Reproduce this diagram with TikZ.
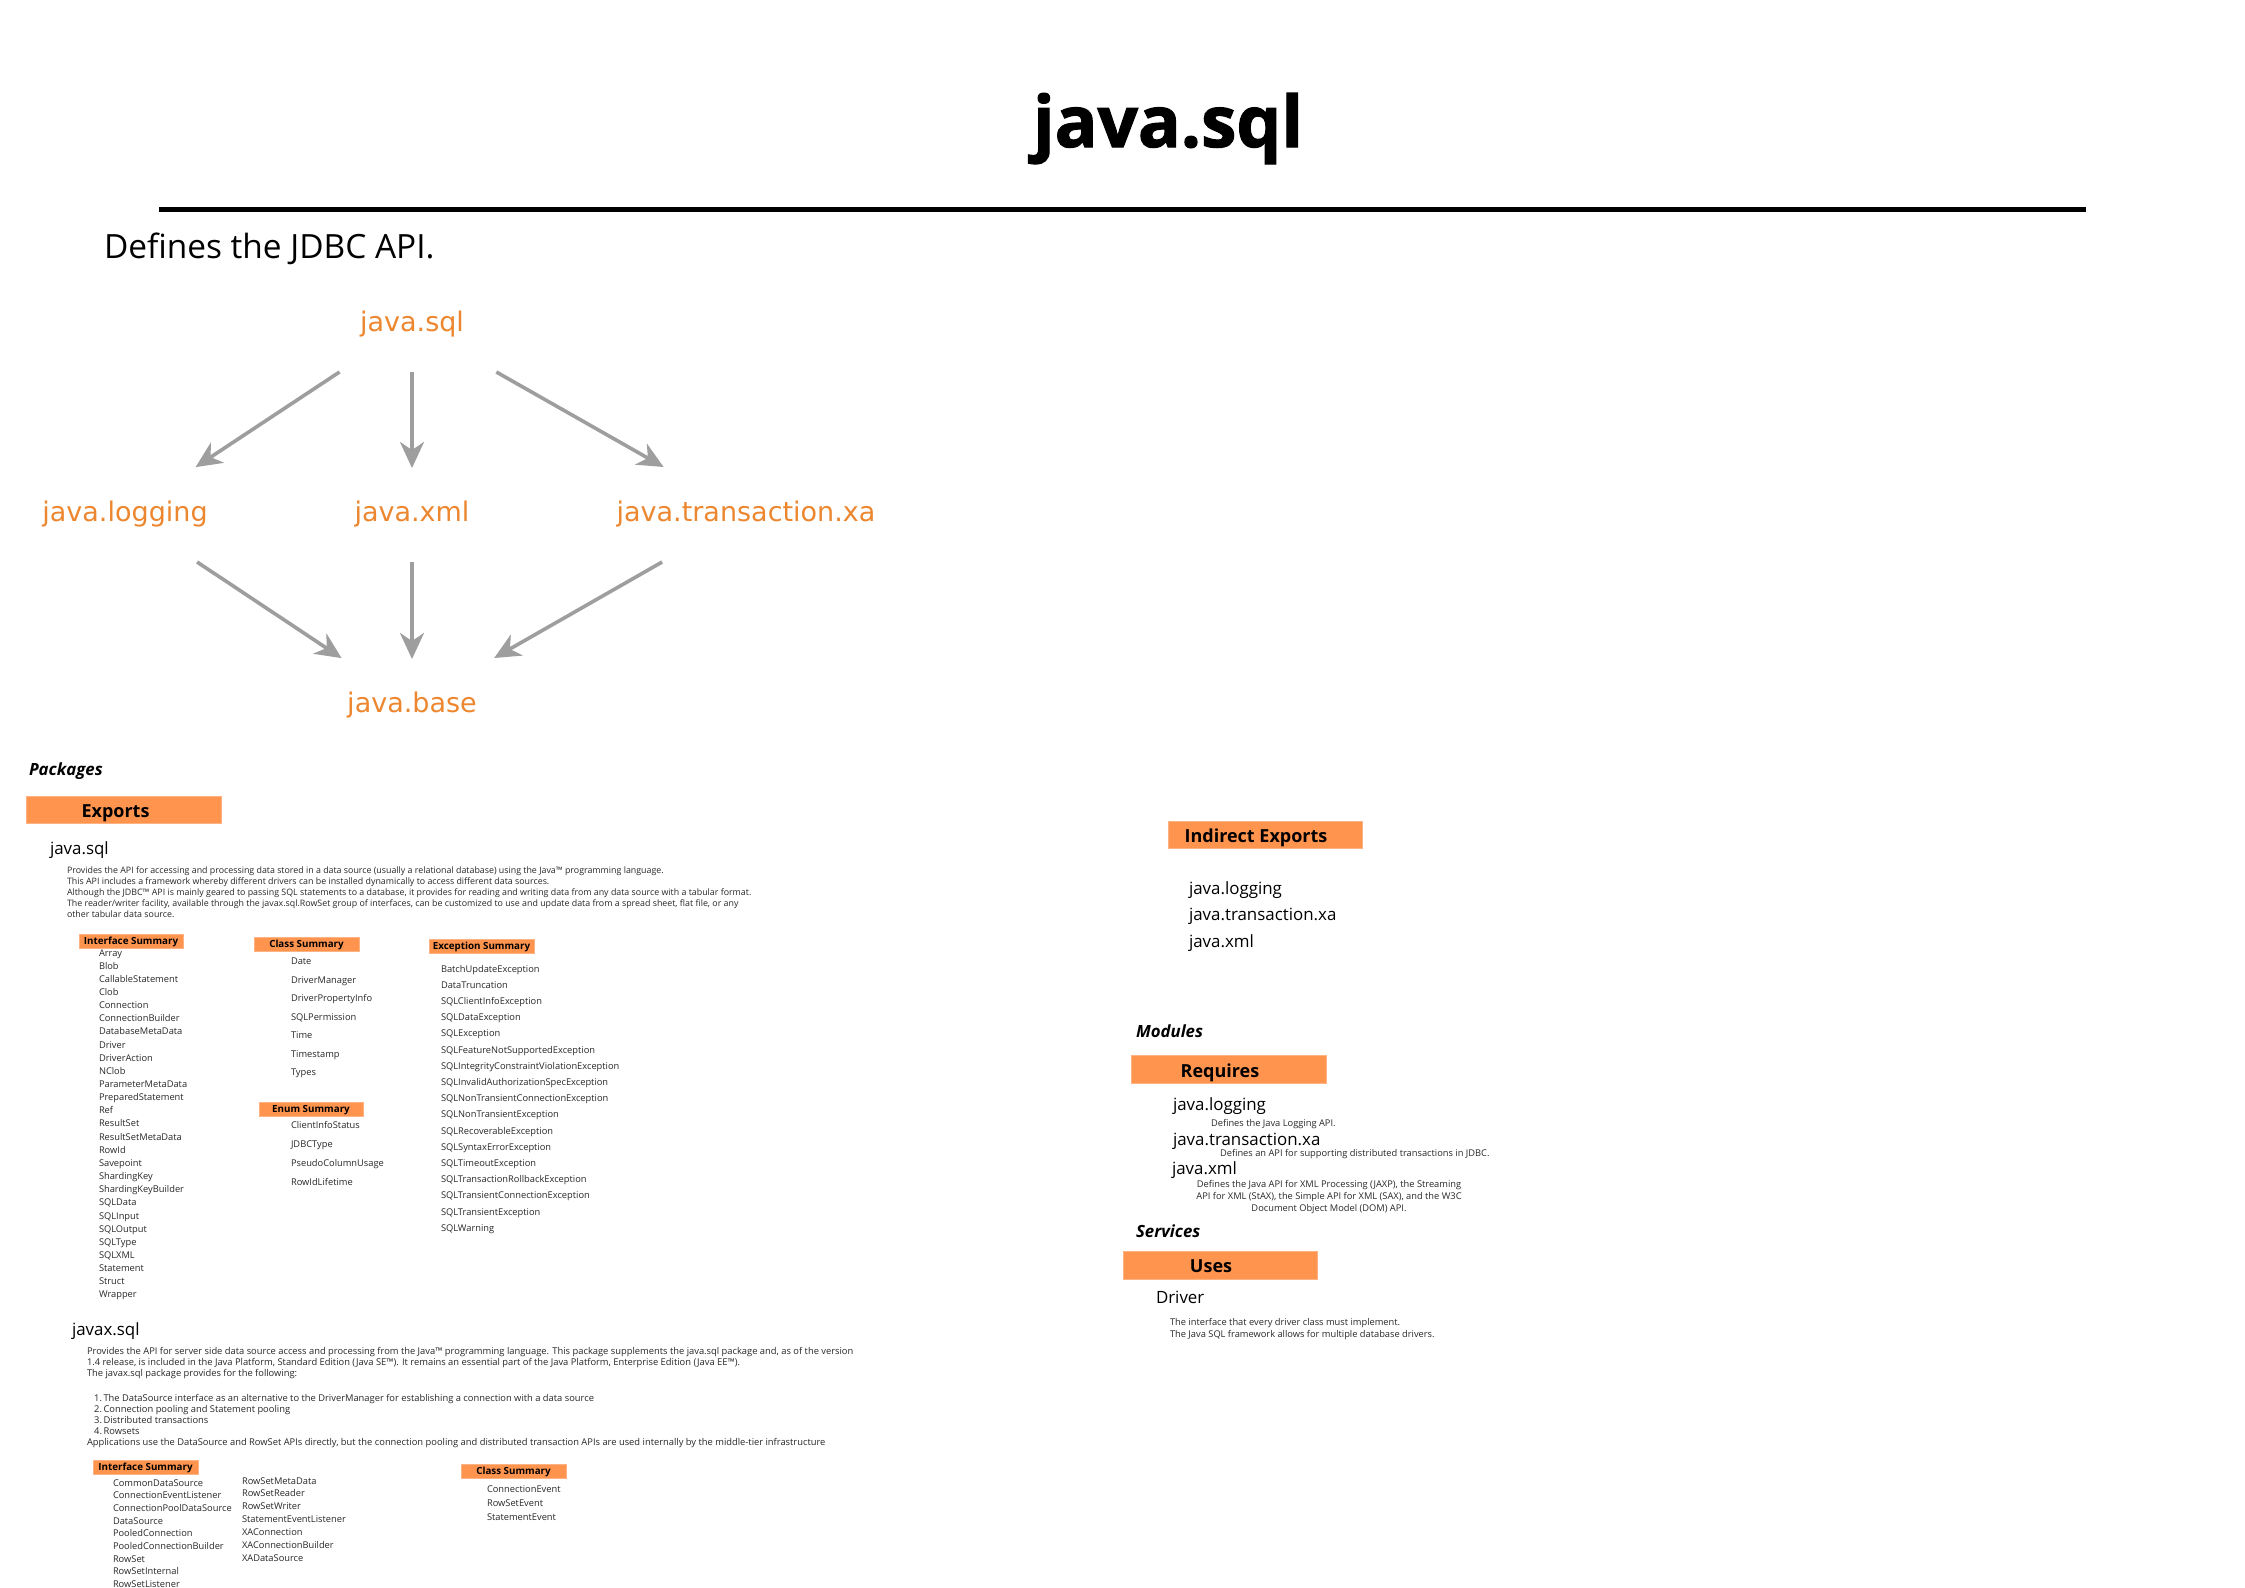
\documentclass[tikz,border=0pt]{standalone}
\usepackage{fontspec}
\setmainfont{Open Sans}
\newfontfamily\dvfont{DejaVu Sans}
\usetikzlibrary{arrows.meta}
\definecolor{modorange}{RGB}{236,135,48}
\definecolor{boxorange}{RGB}{255,148,79}
\definecolor{boxedge}{RGB}{255,178,130}
\definecolor{arrgray}{RGB}{158,158,158}
\definecolor{txtgray}{RGB}{40,40,40}
\newcommand{\fsz}[2]{\fontsize{#1}{#2}\selectfont}
\begin{document}
\begin{tikzpicture}[x=1pt,y=-1pt,
  every node/.style={inner sep=0pt, outer sep=0pt},
  mod/.style={font=\dvfont\fsz{27}{30}, text=modorange, minimum height=96pt, minimum width=170pt},
  dep/.style={draw=arrgray, line width=3.6pt, -{Stealth[length=26pt,width=24pt,inset=8pt]}, shorten >=-2pt},
  sect/.style={font=\bfseries\itshape\fsz{16.8}{19}, anchor=base west},
  obox/.style={fill=boxorange, draw=boxedge, line width=0.8pt, anchor=north west},
  bighdr/.style={font=\bfseries\fsz{18}{20}, anchor=base},
  smallhdr/.style={font=\bfseries\fsz{9.8}{12}, anchor=base},
  pkg/.style={font=\fsz{16.9}{20}, anchor=base west, text=black},
  desc/.style={font=\fsz{8.85}{10.9}, anchor=north west, align=left, text=txtgray},
  xdesc/.style={font=\fsz{9.35}{11.2}, anchor=north west, align=left, text=txtgray},
  rdesc/.style={font=\fsz{9.3}{12}, anchor=base west, text=txtgray},
  item/.style={font=\fsz{9.3}{11}, anchor=base west, text=txtgray},
]
\path[use as bounding box, fill=white] (0,0) rectangle (2245,1587);

% ---------------- title ----------------
\node[font=\bfseries\fsz{71}{80}\addfontfeature{FakeBold=1.6}, anchor=base] (title) at (1168,147) {java.sql};
\coordinate (rulel) at (159,209);
\coordinate (ruler) at (2086,209);
\draw[line width=5pt] (rulel) -- (ruler);
\node[font=\fsz{33.4}{37}, anchor=base west] (defines) at (104,258) {Defines the JDBC API.};

% ---------------- module graph ----------------
\node[mod] (msql)  at (412,324) {java.sql};
\node[mod] (mlog)  at (125,514) {java.logging};
\node[mod] (mxml)  at (412,514) {java.xml};
\node[mod] (mtx)   at (746,514) {java.transaction.xa};
\node[mod] (mbase) at (412,705) {java.base};
\draw[dep] (msql) -- (mlog);
\draw[dep] (msql) -- (mxml);
\draw[dep] (msql) -- (mtx);
\draw[dep] (mlog) -- (mbase);
\draw[dep] (mxml) -- (mbase);
\draw[dep] (mtx)  -- (mbase);

% ---------------- Packages / Exports ----------------
\node[sect] (packages) at (29,775) {Packages};
\node[obox, minimum width=195pt, minimum height=27pt] (exbox) at (26,796) {};
\node[bighdr] (exhdr) at (115.5,817) {Exports};

\node[pkg] (pkgsql) at (50,854) {java.sql};
\node[desc] (sqldesc) at (67,867.2) {Provides the API for accessing and processing data stored in a data source (usually a relational database) using the Java™ programming language.\\
This API includes a framework whereby different drivers can be installed dynamically to access different data sources.\\
Although the JDBC™ API is mainly geared to passing SQL statements to a database, it provides for reading and writing data from any data source with a tabular format.\\
The reader/writer facility, available through the javax.sql.RowSet group of interfaces, can be customized to use and update data from a spread sheet, flat file, or any\\
other tabular data source.};

% java.sql summaries
\node[obox, minimum width=104pt, minimum height=14pt] (ifbox) at (79,934) {};
\node[smallhdr] (ifhdr) at (ifbox.center) [yshift=-3.6pt] {Interface Summary};
\foreach \t [count=\i from 0] in {Array,Blob,CallableStatement,Clob,Connection,ConnectionBuilder,DatabaseMetaData,Driver,DriverAction,NClob,ParameterMetaData,PreparedStatement,Ref,ResultSet,ResultSetMetaData,RowId,Savepoint,ShardingKey,ShardingKeyBuilder,SQLData,SQLInput,SQLOutput,SQLType,SQLXML,Statement,Struct,Wrapper}
  \node[item] (ifi\i) at (99,{956+13.15*\i}) {\t};

\node[obox, minimum width=105pt, minimum height=14pt] (clbox) at (254,937) {};
\node[smallhdr] (clhdr) at (clbox.center) [yshift=-3.6pt] {Class Summary};
\foreach \t [count=\i from 0] in {Date,DriverManager,DriverPropertyInfo,SQLPermission,Time,Timestamp,Types}
  \node[item] (cli\i) at (291,{964.5+18.5*\i}) {\t};

\node[obox, minimum width=104pt, minimum height=14pt] (enbox) at (259,1102) {};
\node[smallhdr] (enhdr) at (enbox.center) [yshift=-3.6pt] {Enum Summary};
\foreach \t [count=\i from 0] in {ClientInfoStatus,JDBCType,PseudoColumnUsage,RowIdLifetime}
  \node[item] (eni\i) at (291,{1128+19.2*\i}) {\t};

\node[obox, minimum width=105pt, minimum height=14pt] (exsbox) at (429,939) {};
\node[smallhdr] (exshdr) at (exsbox.center) [yshift=-3.6pt] {Exception Summary};
\foreach \t [count=\i from 0] in {BatchUpdateException,DataTruncation,SQLClientInfoException,SQLDataException,SQLException,SQLFeatureNotSupportedException,SQLIntegrityConstraintViolationException,SQLInvalidAuthorizationSpecException,SQLNonTransientConnectionException,SQLNonTransientException,SQLRecoverableException,SQLSyntaxErrorException,SQLTimeoutException,SQLTransactionRollbackException,SQLTransientConnectionException,SQLTransientException,SQLWarning}
  \node[item] (exi\i) at (441,{972+16.2*\i}) {\t};

% ---------------- javax.sql ----------------
\node[pkg] (pkgxsql) at (72,1335) {javax.sql};
\node[xdesc] (xdesc) at (87,1347) {Provides the API for server side data source access and processing from the Java™ programming language. This package supplements the java.sql package and, as of the version\\
1.4 release, is included in the Java Platform, Standard Edition (Java SE™). It remains an essential part of the Java Platform, Enterprise Edition (Java EE™).\\
The javax.sql package provides for the following:};
\node[xdesc] (xlist) at (87,1394) {\makebox[15pt][r]{1.}\,The DataSource interface as an alternative to the DriverManager for establishing a connection with a data source\\
\makebox[15pt][r]{2.}\,Connection pooling and Statement pooling\\
\makebox[15pt][r]{3.}\,Distributed transactions\\
\makebox[15pt][r]{4.}\,Rowsets};
\node[xdesc] (xapp) at (87,1438.5) {Applications use the DataSource and RowSet APIs directly, but the connection pooling and distributed transaction APIs are used internally by the middle-tier infrastructure};

\node[obox, minimum width=105pt, minimum height=14pt] (xifbox) at (93,1460) {};
\node[smallhdr] (xifhdr) at (xifbox.center) [yshift=-3.6pt] {Interface Summary};
\foreach \t [count=\i from 0] in {CommonDataSource,ConnectionEventListener,ConnectionPoolDataSource,DataSource,PooledConnection,PooledConnectionBuilder,RowSet,RowSetInternal,RowSetListener}
  \node[item] (xia\i) at (113,{1486+12.7*\i}) {\t};
\foreach \t [count=\i from 0] in {RowSetMetaData,RowSetReader,RowSetWriter,StatementEventListener,XAConnection,XAConnectionBuilder,XADataSource}
  \node[item] (xib\i) at (242,{1484+12.9*\i}) {\t};

\node[obox, minimum width=105pt, minimum height=14pt] (xclbox) at (461,1464) {};
\node[smallhdr] (xclhdr) at (xclbox.center) [yshift=-3.6pt] {Class Summary};
\foreach \t [count=\i from 0] in {ConnectionEvent,RowSetEvent,StatementEvent}
  \node[item] (xci\i) at (487,{1492+14*\i}) {\t};

% ---------------- right column ----------------
\node[obox, minimum width=194pt, minimum height=27pt] (indbox) at (1168,821) {};
\node[bighdr] (indhdr) at (1256,842) {Indirect Exports};
\node[pkg] (ind1) at (1189,894) {java.logging};
\node[pkg] (ind2) at (1189,920) {java.transaction.xa};
\node[pkg] (ind3) at (1189,947) {java.xml};

\node[sect] (modules) at (1136,1037) {Modules};
\node[obox, minimum width=195pt, minimum height=28pt] (reqbox) at (1131,1055) {};
\node[bighdr] (reqhdr) at (1220,1077) {Requires};
\node[pkg] (req1) at (1173,1110) {java.logging};
\node[rdesc] (req1d) at (1211,1126) {Defines the Java Logging API.};
\node[pkg] (req2) at (1173,1145) {java.transaction.xa};
\node[rdesc] (req2d) at (1220,1156) {Defines an API for supporting distributed transactions in JDBC.};
\node[pkg] (req3) at (1172,1174) {java.xml};
\node[font=\fsz{9.3}{12}, text=txtgray, align=center, anchor=north] (req3d) at (1329,1180) {Defines the Java API for XML Processing (JAXP), the Streaming\\
API for XML (StAX), the Simple API for XML (SAX), and the W3C\\
Document Object Model (DOM) API.};

\node[sect] (services) at (1136,1237) {Services};
\node[obox, minimum width=194pt, minimum height=28pt] (usesbox) at (1123,1251) {};
\node[bighdr] (useshdr) at (1211,1272) {Uses};
\node[pkg] (drv) at (1156,1303) {Driver};
\node[rdesc] (drvd1) at (1170,1325) {The interface that every driver class must implement.};
\node[rdesc] (drvd2) at (1170,1337) {The Java SQL framework allows for multiple database drivers.};
\end{tikzpicture}
\end{document}
